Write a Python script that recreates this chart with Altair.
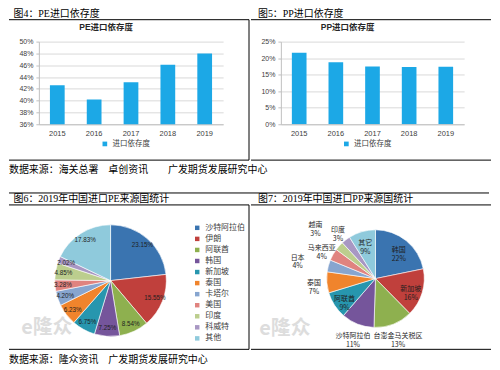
import altair as alt
import pandas as pd

# ---------------- data ----------------
years = ["2015", "2016", "2017", "2018", "2019"]
pe_dependency = [0.426, 0.402, 0.431, 0.461, 0.480]
pp_dependency = [0.216, 0.1875, 0.175, 0.173, 0.174]
pe_ticks = [0.36, 0.38, 0.40, 0.42, 0.44, 0.46, 0.48, 0.50]
pp_ticks = [0.0, 0.05, 0.10, 0.15, 0.20, 0.25]

pe_countries = ["沙特阿拉伯", "伊朗", "阿联酋", "韩国", "新加坡", "泰国",
                "卡塔尔", "美国", "印度", "科威特", "其他"]
pe_shares = [23.15, 15.55, 8.54, 7.25, 6.75, 6.23, 4.20, 3.28, 4.85, 2.02, 17.83]

pp_countries = ["韩国", "新加坡", "台澎金马关税区", "沙特阿拉伯", "阿联酋", "泰国",
                "日本", "马来西亚", "越南", "印度", "其它"]
pp_shares = [22, 16, 13, 11, 9, 7, 4, 4, 3, 3, 9]
pp_inside = ["韩国", "新加坡", "阿联酋", "其它"]      # labels drawn inside the slice
pp_far = ["日本", "越南"]                             # labels pushed to the outer ring

headers = ["图4：PE进口依存度", "图5：PP进口依存度",
           "图6：2019年中国进口PE来源国统计", "图7：2019年中国进口PP来源国统计"]
inner_titles = ["PE进口依存度", "PP进口依存度"]
series_name = "进口依存度"
source1 = "数据来源：海关总署　卓创资讯　　广发期货发展研究中心"
source2 = "数据来源：隆众资讯　广发期货发展研究中心"
watermark = "e隆众"

palette = ["#3A74B0", "#C0403C", "#8EB04F", "#75559B", "#2796AE", "#F0842C",
           "#87A5CF", "#E0837F", "#BCCE8E", "#A897C3", "#8FCADC"]
BAR_COLOR = "#1CA8E6"
CJK = "Noto Sans CJK SC"
SANS = "Liberation Sans, Noto Sans CJK SC"
SERIF = "Liberation Serif, Noto Sans CJK SC"

L = -30      # left edge of every cell, relative to the plot origin
R = 211      # right edge of every cell

_one = pd.DataFrame({"k": [0]})


def hrule(x1, x2, y, color="#000000", width=1):
    return alt.Chart(_one).mark_rule(color=color, strokeWidth=width).encode(
        x=alt.value(x1), x2=alt.value(x2), y=alt.value(y))


def vrule(x, y1, y2, color="#000000", width=1):
    return alt.Chart(_one).mark_rule(color=color, strokeWidth=width).encode(
        x=alt.value(x), y=alt.value(y1), y2=alt.value(y2))


def text_at(t, x, y, **kw):
    return alt.Chart(pd.DataFrame({"t": [t]})).mark_text(**kw).encode(
        text="t:N", x=alt.value(x), y=alt.value(y))


def header(t, dx):
    return alt.TitleParams(t, anchor="start", frame="bounds", dx=dx, offset=0,
                           fontSize=10, font=SERIF, fontWeight="normal",
                           color="#000000")


def bar_panel(values, ticks, domain, hdr, inner, w, h, hdr_dx, divider):
    df = pd.DataFrame({"year": years, "value": values,
                       "series": [series_name] * len(years)})
    bars = alt.Chart(df).mark_bar(clip=True).encode(
        x=alt.X("year:N", title=None, sort=None,
                scale=alt.Scale(paddingInner=0.6, paddingOuter=0.3),
                axis=alt.Axis(labelAngle=0, labelFontSize=7.5, labelColor="#404040",
                              labelFont=SANS, domainColor="#BFBFBF", ticks=False,
                              labelPadding=5, grid=False)),
        y=alt.Y("value:Q", title=None,
                scale=alt.Scale(domain=domain, nice=False, zero=False),
                axis=alt.Axis(values=ticks, format=".0%", labelFontSize=7,
                              labelColor="#404040", labelFont=SANS, grid=True,
                              gridColor="#D9D9D9", domainColor="#BFBFBF",
                              tickColor="#BFBFBF", tickSize=3, labelPadding=3)),
        color=alt.Color("series:N", scale=alt.Scale(range=[BAR_COLOR]),
                        legend=alt.Legend(title=None, orient="none",
                                          legendX=w / 2 - 30, legendY=h + 16,
                                          symbolType="square", symbolSize=22,
                                          labelFontSize=7.5, labelFont=CJK,
                                          labelColor="#404040", symbolStrokeWidth=0)),
    )
    parts = [bars,
             text_at(inner, w / 2 - 25, -15, fontSize=8.5, fontWeight="bold",
                     font=SANS, color="#262626"),
             hrule(L, R, -22), hrule(L, R, h + 36)]
    if divider:
        parts.append(vrule(R, -22, h + 36))
    return alt.layer(*parts).properties(width=w, height=h,
                                        title=header(hdr, hdr_dx))


# ---------------- top row: bar charts ----------------
pe_bar = bar_panel(pe_dependency, pe_ticks, [0.36, 0.50], headers[0], inner_titles[0],
                   185, 83, 5, True)
pp_bar = bar_panel(pp_dependency, pp_ticks, [0.0, 0.25], headers[1], inner_titles[1],
                   184, 83, 7.5, False)
row_a = alt.hconcat(pe_bar, pp_bar, spacing=0).resolve_scale(
    x="independent", y="independent", color="independent")

src1 = alt.layer(
    text_at(source1, L, 9, align="left", baseline="middle", fontSize=10,
            font=CJK, color="#000000"),
    hrule(L, 452, 32),
).properties(width=450, height=32)

# ---------------- bottom row: pies ----------------
PIE_H = 145
PIE_CY = 76

pe_df = pd.DataFrame({"country": pe_countries, "share": pe_shares,
                      "idx": list(range(len(pe_countries))),
                      "label": [f"{v:.2f}%" for v in pe_shares]})
pe_base = alt.Chart(pe_df).encode(
    theta=alt.Theta("share:Q", stack=True),
    order=alt.Order("idx:Q", sort="ascending"),
    detail="country:N",
    x=alt.value(72), y=alt.value(PIE_CY))
pe_arcs = pe_base.mark_arc(radius=56, stroke="white", strokeWidth=0.6).encode(
    color=alt.Color("country:N", sort=None,
                    scale=alt.Scale(domain=pe_countries, range=palette),
                    legend=alt.Legend(title=None, orient="none", legendX=155, legendY=19,
                                      symbolType="square", symbolSize=20,
                                      labelFontSize=8, labelFont=CJK,
                                      labelColor="#404040", rowPadding=3.1,
                                      symbolStrokeWidth=0)))
pe_text = pe_base.mark_text(radius=48, fontSize=6.3, font=SANS, color="#1F1F1F").encode(
    text="label:N")
pe_pie = alt.layer(
    pe_arcs, pe_text,
    text_at(watermark, 8, 124, fontSize=20, fontWeight="bold", font=CJK,
            color="#D0D0D0", opacity=0.7),
    hrule(L, R, 0), hrule(L, R, PIE_H), vrule(R, 0, PIE_H),
).properties(width=200, height=PIE_H, title=header(headers[2], 5))

pp_df = pd.DataFrame({
    "country": pp_countries, "share": pp_shares,
    "idx": list(range(len(pp_countries))),
    "ring": ["in" if c in pp_inside else ("far" if c in pp_far else "near")
             for c in pp_countries],
    "label": [f"{c}\n{v}%" for c, v in zip(pp_countries, pp_shares)],
})
PP_CX, PP_CY = 95, PIE_CY - 2
pp_arcs = alt.Chart(pp_df).mark_arc(radius=49, stroke="white", strokeWidth=0.6).encode(
    theta=alt.Theta("share:Q", stack=True),
    order=alt.Order("idx:Q", sort="ascending"),
    color=alt.Color("country:N", sort=None,
                    scale=alt.Scale(domain=pp_countries, range=palette),
                    legend=None),
    x=alt.value(PP_CX), y=alt.value(PP_CY))


def pp_labels(ring, radius):
    return alt.Chart(pp_df).transform_window(
        cum="sum(share)", sort=[alt.SortField("idx", order="ascending")]
    ).transform_calculate(
        mid="datum.cum - datum.share / 2"
    ).transform_filter(
        alt.datum.ring == ring
    ).mark_text(radius=radius, fontSize=7, font=CJK, color="#1F1F1F",
                lineBreak="\n").encode(
        theta=alt.Theta("mid:Q", stack=None),
        text="label:N",
        x=alt.value(PP_CX), y=alt.value(PP_CY))


pp_pie = alt.layer(
    pp_arcs, pp_labels("in", 37), pp_labels("near", 62), pp_labels("far", 81),
    text_at(watermark, 4, 125, fontSize=20, fontWeight="bold", font=CJK,
            color="#D0D0D0", opacity=0.7),
    hrule(L, R, 0), hrule(L, R, PIE_H),
).properties(width=200, height=PIE_H, title=header(headers[3], 7.5))

row_b = alt.hconcat(pe_pie, pp_pie, spacing=0).resolve_scale(
    color="independent", theta="independent")

src2 = alt.layer(
    text_at(source2, L, 9.5, align="left", baseline="middle", fontSize=10,
            font=CJK, color="#000000"),
).properties(width=450, height=14)

chart = alt.vconcat(row_a, src1, row_b, src2, spacing=0).resolve_scale(
    color="independent", theta="independent", x="independent", y="independent"
).properties(padding=0, background="white").configure_view(stroke=None)

chart.save("out.html", embed_options={"renderer": "svg", "actions": False})
